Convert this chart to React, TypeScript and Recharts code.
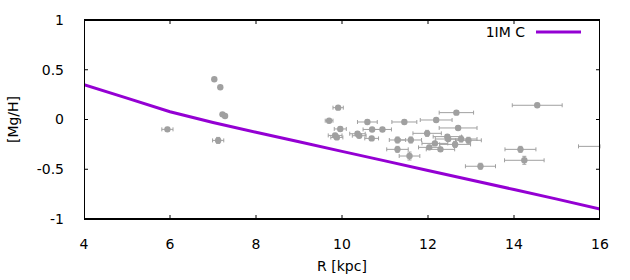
import { ComposedChart, Line, Scatter, ErrorBar, XAxis, YAxis } from 'recharts';

// observed stars: galactocentric radius and [Mg/H] with errors
const radius = [
  7.03, 7.17, 7.22, 7.28, 5.94, 7.12, 9.91, 9.7, 10.59, 11.45, 9.96, 10.7, 10.94, 9.84, 9.88, 10.36,
  10.4, 10.69, 11.29, 11.6, 11.29, 11.57, 12.66, 12.19, 12.7, 11.98, 12.45, 12.47, 12.77, 12.94,
  12.16, 12.63, 12.03, 12.29, 14.15, 14.24, 13.22, 14.54, 16.4,
];
const mgh = [
  0.404, 0.324, 0.052, 0.035, -0.099, -0.21, 0.119, -0.012, -0.025, -0.025, -0.095, -0.1, -0.1,
  -0.16, -0.18, -0.143, -0.163, -0.19, -0.206, -0.206, -0.3, -0.367, 0.069, -0.005, -0.085, -0.139,
  -0.172, -0.196, -0.196, -0.209, -0.24, -0.25, -0.28, -0.3, -0.3, -0.41, -0.47, 0.143, -0.27,
];
// [minus, plus]; the last star sits past the right edge, its bar is cut at 16
const radiusErr = [
  [0.03, 0.03], [0.03, 0.03], [0.03, 0.03], [0.03, 0.03], [0.13, 0.13], [0.13, 0.13], [0.12, 0.12],
  [0.09, 0.09], [0.23, 0.23], [0.29, 0.29], [0.14, 0.14], [0.21, 0.21], [0.21, 0.21], [0.16, 0.16],
  [0.14, 0.14], [0.18, 0.18], [0.16, 0.16], [0.16, 0.16], [0.19, 0.19], [0.25, 0.25], [0.25, 0.25],
  [0.24, 0.24], [0.4, 0.4], [0.37, 0.37], [0.44, 0.44], [0.33, 0.33], [0.33, 0.33], [0.3, 0.3],
  [0.37, 0.37], [0.3, 0.3], [0.3, 0.3], [0.36, 0.36], [0.25, 0.25], [0.33, 0.33], [0.36, 0.36],
  [0.46, 0.46], [0.35, 0.35], [0.58, 0.58], [0.9, -0.4],
];
const mghErr = [
  0.01, 0.01, 0.01, 0.01, 0.02, 0.03, 0.02, 0.02, 0.02, 0.02, 0.02, 0.02, 0.02, 0.02, 0.02, 0.02,
  0.02, 0.02, 0.03, 0.03, 0.03, 0.04, 0.02, 0.02, 0.02, 0.03, 0.02, 0.02, 0.03, 0.03, 0.02, 0.03,
  0.02, 0.02, 0.03, 0.04, 0.03, 0.02, undefined,
];

// model 1IM C
const modelR = [4, 5, 6, 7, 8, 9, 10, 11, 12, 13, 14, 15, 16];
const modelMgH = [0.35, 0.215, 0.078, -0.03, -0.128, -0.224, -0.32, -0.416, -0.512, -0.608, -0.704, -0.8, -0.9];

const xTicks = [4, 6, 8, 10, 12, 14, 16];
const yTicks = [-1, -0.5, 0, 0.5, 1];
const xDomain = [4, 16];
const yDomain = [-1, 1];

const stars = radius.map((r, i) => ({ r, mgh: mgh[i], xErr: radiusErr[i], yErr: mghErr[i] }));
const model = modelR.map((r, i) => ({ r, mgh: modelMgH[i] }));

// gnuplot style border box and inward tics on all four sides
const border = [
  { r: xDomain[0], mgh: yDomain[0] },
  { r: xDomain[1], mgh: yDomain[0] },
  { r: xDomain[1], mgh: yDomain[1] },
  { r: xDomain[0], mgh: yDomain[1] },
  { r: xDomain[0], mgh: yDomain[0] },
];
const tics = [
  ...xTicks.map((t) => ({ r: t, mgh: yDomain[0], side: 'bottom' })),
  ...xTicks.map((t) => ({ r: t, mgh: yDomain[1], side: 'top' })),
  ...yTicks.map((t) => ({ r: xDomain[0], mgh: t, side: 'left' })),
  ...yTicks.map((t) => ({ r: xDomain[1], mgh: t, side: 'right' })),
];

const FONT = 'DejaVu Sans';
const GREY = '#a0a0a0';
const VIOLET = '#9400d3';
const TIC = 4;
const tickStyle = { fill: '#000', fontSize: 14, fontFamily: FONT };

const Dot = (props: any) => <circle cx={props.cx} cy={props.cy} r={3.2} fill={GREY} />;

const Tic = (props: any) => {
  const { cx, cy } = props;
  const side = props.payload?.side;
  let d = { x2: cx, y2: cy - TIC };
  if (side === 'top') d = { x2: cx, y2: cy + TIC };
  if (side === 'left') d = { x2: cx + TIC, y2: cy };
  if (side === 'right') d = { x2: cx - TIC, y2: cy };
  return <line x1={cx} y1={cy} x2={d.x2} y2={d.y2} stroke="#000" strokeWidth={1} />;
};

export default function App() {
  return (
    <div style={{ position: 'absolute', left: 0, top: 0, width: 630, height: 280, background: '#fff' }}>
      <ComposedChart width={630} height={280} margin={{ top: 20, right: 30, bottom: 4, left: 0 }}>
        <XAxis
          dataKey="r"
          type="number"
          domain={xDomain}
          ticks={xTicks}
          allowDataOverflow
          height={57}
          axisLine={false}
          tickLine={false}
          tickMargin={14.5}
          tick={tickStyle}
          label={{ value: 'R [kpc]', position: 'insideBottom', offset: 5, fill: '#000', fontSize: 14, fontFamily: FONT }}
        />
        <YAxis
          type="number"
          domain={yDomain}
          ticks={yTicks}
          width={84}
          axisLine={false}
          tickLine={false}
          tickMargin={14}
          tick={tickStyle}
          label={{
            value: '[Mg/H]',
            angle: -90,
            position: 'insideLeft',
            offset: 13,
            fill: '#000',
            fontSize: 14,
            fontFamily: FONT,
            style: { textAnchor: 'middle' },
          }}
        />
        <Scatter data={stars} dataKey="mgh" shape={Dot} isAnimationActive={false}>
          <ErrorBar dataKey="xErr" direction="x" width={2} stroke={GREY} strokeWidth={1} />
          <ErrorBar dataKey="yErr" direction="y" width={2} stroke={GREY} strokeWidth={1} />
        </Scatter>
        <Line
          data={model}
          dataKey="mgh"
          type="linear"
          stroke={VIOLET}
          strokeWidth={3}
          dot={false}
          isAnimationActive={false}
        />
        <Scatter data={tics} dataKey="mgh" shape={Tic} isAnimationActive={false} />
        <Line
          data={border}
          dataKey="mgh"
          type="linear"
          stroke="#000"
          strokeWidth={2}
          dot={false}
          isAnimationActive={false}
        />
      </ComposedChart>
      <div
        style={{
          position: 'absolute',
          top: 24,
          right: 49,
          display: 'flex',
          alignItems: 'center',
          fontFamily: FONT,
          fontSize: 14,
          color: '#000',
          lineHeight: '16px',
        }}
      >
        <span>1IM C</span>
        <svg width={45} height={4} style={{ marginLeft: 11 }}>
          <line x1={0} y1={2} x2={45} y2={2} stroke={VIOLET} strokeWidth={3} />
        </svg>
      </div>
    </div>
  );
}
